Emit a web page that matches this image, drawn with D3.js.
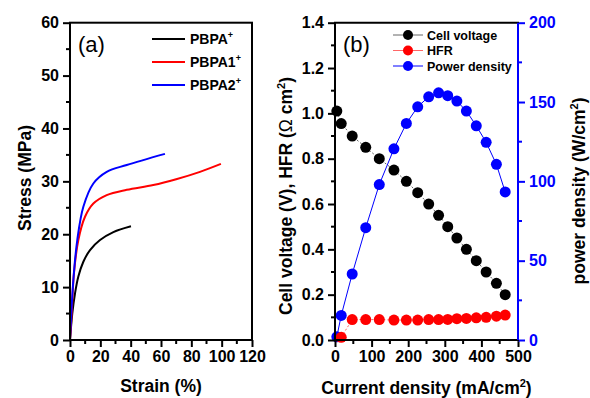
<!DOCTYPE html>
<html>
<head>
<meta charset="utf-8">
<script src="https://cdn.jsdelivr.net/npm/d3@7"></script>
<style>
  body { margin: 0; background: #fff; }
  svg { display: block; font-family: Arial, 'Liberation Sans', sans-serif; }
  .tick text { font-weight: bold; font-size: 16px; }
</style>
</head>
<body>
<svg id="chart" width="590" height="398"></svg>
<script>
// panel (a): stress-strain curves
const strainPBPA = [0, 1.5, 3.3, 5.5, 8.8, 13.2, 19.8, 28.6, 40.2];
const stressPBPA = [0, 5, 8.8, 12, 14.8, 17, 18.9, 20.4, 21.5];
const strainPBPA1 = [0, 1.1, 2.6, 5.5, 9.9, 15.4, 24.2, 37.4, 54.9, 70, 85.7, 99.5];
const stressPBPA1 = [0, 5, 12.6, 18.9, 23.3, 25.8, 27.4, 28.4, 29.3, 30.4, 31.8, 33.3];
const strainPBPA2 = [0, 2.2, 4.8, 8.8, 15.4, 24.2, 37.4, 62.6];
const stressPBPA2 = [0, 11.3, 18.9, 25.2, 29.6, 31.8, 33.1, 35.2];
const curveNames = ['PBPA', 'PBPA1', 'PBPA2'];
const curveColors = ['#000000', '#ff0000', '#0000ff'];
const strainTicks = [0, 20, 40, 60, 80, 100, 120];
const stressTicks = [0, 10, 20, 30, 40, 50, 60];

// panel (b): fuel cell polarisation
const currentDensity = [5, 17, 47, 84, 121, 161, 195, 226, 256, 283, 308, 333, 359, 386, 413, 441, 465];
const cellVoltage = [1.01, 0.955, 0.9, 0.85, 0.8, 0.75, 0.7, 0.65, 0.6, 0.55, 0.5, 0.45, 0.4, 0.35, 0.3, 0.25, 0.2];
const hfr = [null, 0.012, 0.09, 0.09, 0.09, 0.088, 0.088, 0.088, 0.09, 0.09, 0.091, 0.094, 0.095, 0.098, 0.1, 0.105, 0.11];
const powerDensity = [2, 15.5, 41.6, 70.8, 98, 120.5, 136.5, 147, 153.3, 155.8, 154, 150.6, 144.3, 135, 124.6, 110.7, 93.3];
const currentTicks = [0, 100, 200, 300, 400, 500];
const voltageTicks = [0, 0.2, 0.4, 0.6, 0.8, 1.0, 1.2, 1.4];
const powerTicks = [0, 50, 100, 150, 200];

const svg = d3.select('#chart');
const plotTop = 22.7, plotBottom = 340;

function styleAxis(g, color) {
    g.select('.domain').remove();
    g.selectAll('.tick line').attr('stroke', color).attr('stroke-width', 2);
    g.selectAll('.tick text').attr('fill', color);
}

function minorTicks(g, scale, values, orient, len, color) {
    values.forEach(v => {
        const p = scale(v);
        const line = g.append('line').attr('stroke', color).attr('stroke-width', 2);
        if (orient === 'bottom') line.attr('x1', p).attr('x2', p).attr('y1', 0).attr('y2', len);
        else if (orient === 'left') line.attr('y1', p).attr('y2', p).attr('x1', 0).attr('x2', -len);
        else line.attr('y1', p).attr('y2', p).attr('x1', 0).attr('x2', len);
    });
}

// ---------- panel (a) ----------
const xA = d3.scaleLinear().domain([0, 120]).range([70, 252]);
const yA = d3.scaleLinear().domain([0, 60]).range([plotBottom, plotTop]);

const curves = [
    { x: strainPBPA, y: stressPBPA },
    { x: strainPBPA1, y: stressPBPA1 },
    { x: strainPBPA2, y: stressPBPA2 }
];
const lineA = d3.line()
    .x(d => xA(d[0]))
    .y(d => yA(d[1]))
    .curve(d3.curveCatmullRom.alpha(0.5));
curves.forEach((c, i) => {
    svg.append('path')
        .datum(c.x.map((v, k) => [v, c.y[k]]))
        .attr('d', lineA)
        .attr('fill', 'none')
        .attr('stroke', curveColors[i])
        .attr('stroke-width', 2);
});

let gxA = svg.append('g').attr('transform', `translate(0,${plotBottom})`)
    .call(d3.axisBottom(xA).tickValues(strainTicks).tickSize(7).tickPadding(4));
styleAxis(gxA, '#000');
minorTicks(gxA, xA, [10, 30, 50, 70, 90, 110], 'bottom', 4, '#000');
let gyA = svg.append('g').attr('transform', 'translate(70,0)')
    .call(d3.axisLeft(yA).tickValues(stressTicks).tickSize(7).tickPadding(4));
styleAxis(gyA, '#000');
minorTicks(gyA, yA, [5, 15, 25, 35, 45, 55], 'left', 4, '#000');
svg.append('rect').attr('x', 70).attr('y', plotTop).attr('width', 182).attr('height', plotBottom - plotTop)
    .attr('fill', 'none').attr('stroke', '#000').attr('stroke-width', 2);

svg.append('text').attr('x', 78).attr('y', 52).attr('font-size', 22).text('(a)');

curveNames.forEach((name, i) => {
    const ly = 39 + i * 23;
    svg.append('line').attr('x1', 152).attr('x2', 185).attr('y1', ly).attr('y2', ly)
        .attr('stroke', curveColors[i]).attr('stroke-width', 2);
    const t = svg.append('text').attr('x', 190).attr('y', ly + 5)
        .attr('font-size', 14).attr('font-weight', 'bold').text(name);
    t.append('tspan').attr('dy', -6).attr('font-size', 9).text('+');
});

svg.append('text').attr('x', 161).attr('y', 392).attr('text-anchor', 'middle')
    .attr('font-size', 17.5).attr('font-weight', 'bold').text('Strain (%)');
svg.append('text').attr('transform', 'translate(31,178) rotate(-90)').attr('text-anchor', 'middle')
    .attr('font-size', 17.5).attr('font-weight', 'bold').text('Stress (MPa)');

// ---------- panel (b) ----------
const xB = d3.scaleLinear().domain([0, 500]).range([335, 518]);
const yB = d3.scaleLinear().domain([0, 1.4]).range([plotBottom, plotTop]);
const yP = d3.scaleLinear().domain([0, 200]).range([plotBottom, plotTop]);

const series = [
    { name: 'Power density', vals: powerDensity, y: yP, color: '#0000ff', lineColor: '#0000ff', dash: null },
    { name: 'HFR', vals: hfr, y: yB, color: '#ff0000', lineColor: '#ff6666', dash: '2,2' },
    { name: 'Cell voltage', vals: cellVoltage, y: yB, color: '#000000', lineColor: '#666666', dash: '2,2' }
];
series.forEach(s => {
    const pts = currentDensity.map((c, k) => [c, s.vals[k]]).filter(d => d[1] !== null);
    svg.append('path')
        .datum(pts)
        .attr('d', d3.line().x(d => xB(d[0])).y(d => s.y(d[1])))
        .attr('fill', 'none')
        .attr('stroke', s.lineColor)
        .attr('stroke-width', 1)
        .attr('stroke-dasharray', s.dash);
    svg.append('g').selectAll('circle').data(pts).join('circle')
        .attr('cx', d => xB(d[0])).attr('cy', d => s.y(d[1])).attr('r', 5.5)
        .attr('fill', s.color);
});

let gxB = svg.append('g').attr('transform', `translate(0,${plotBottom})`)
    .call(d3.axisBottom(xB).tickValues(currentTicks).tickSize(7).tickPadding(4));
styleAxis(gxB, '#000');
minorTicks(gxB, xB, [50, 150, 250, 350, 450], 'bottom', 4, '#000');
let gyB = svg.append('g').attr('transform', 'translate(335,0)')
    .call(d3.axisLeft(yB).tickValues(voltageTicks).tickFormat(d3.format('.1f')).tickSize(7).tickPadding(4));
styleAxis(gyB, '#000');
minorTicks(gyB, yB, [0.1, 0.3, 0.5, 0.7, 0.9, 1.1, 1.3], 'left', 4, '#000');
let gyP = svg.append('g').attr('transform', 'translate(518,0)')
    .call(d3.axisRight(yP).tickValues(powerTicks).tickSize(7).tickPadding(4));
styleAxis(gyP, '#0000ff');
minorTicks(gyP, yP, [25, 75, 125, 175], 'right', 4, '#0000ff');

svg.append('line').attr('x1', 335).attr('x2', 335).attr('y1', plotTop).attr('y2', plotBottom).attr('stroke', '#000').attr('stroke-width', 2);
svg.append('line').attr('x1', 334).attr('x2', 519).attr('y1', plotTop).attr('y2', plotTop).attr('stroke', '#000').attr('stroke-width', 2);
svg.append('line').attr('x1', 334).attr('x2', 519).attr('y1', plotBottom).attr('y2', plotBottom).attr('stroke', '#000').attr('stroke-width', 2);
svg.append('line').attr('x1', 518).attr('x2', 518).attr('y1', plotTop).attr('y2', plotBottom).attr('stroke', '#0000ff').attr('stroke-width', 2);

svg.append('text').attr('x', 343).attr('y', 52).attr('font-size', 22).text('(b)');

const legendB = [series[2], series[1], series[0]];
legendB.forEach((s, i) => {
    const ly = 35 + i * 15.5;
    svg.append('line').attr('x1', 393).attr('x2', 423).attr('y1', ly).attr('y2', ly)
        .attr('stroke', s.lineColor).attr('stroke-width', 1);
    svg.append('circle').attr('cx', 408).attr('cy', ly).attr('r', 5).attr('fill', s.color);
    svg.append('text').attr('x', 427).attr('y', ly + 4.5)
        .attr('font-size', 12.5).attr('font-weight', 'bold').text(s.name);
});

const xt = svg.append('text').attr('x', 426.5).attr('y', 394).attr('text-anchor', 'middle')
    .attr('font-size', 17.5).attr('font-weight', 'bold').text('Current density (mA/cm');
xt.append('tspan').attr('dy', -7).attr('font-size', 11).text('2');
xt.append('tspan').attr('dy', 7).text(')');

const yt = svg.append('text').attr('transform', 'translate(292,196) rotate(-90)').attr('text-anchor', 'middle')
    .attr('font-size', 17.5).attr('font-weight', 'bold').text('Cell voltage (V), HFR (');
yt.append('tspan').attr('font-weight', 'normal').text('\u03A9');
yt.append('tspan').text(' cm');
yt.append('tspan').attr('dy', -7).attr('font-size', 11).text('2');
yt.append('tspan').attr('dy', 7).text(')');

const pt = svg.append('text').attr('transform', 'translate(585,191) rotate(-90)').attr('text-anchor', 'middle')
    .attr('font-size', 17.5).attr('font-weight', 'bold').text('power density (W/cm');
pt.append('tspan').attr('dy', -7).attr('font-size', 11).text('2');
pt.append('tspan').attr('dy', 7).text(')');
</script>
</body>
</html>
